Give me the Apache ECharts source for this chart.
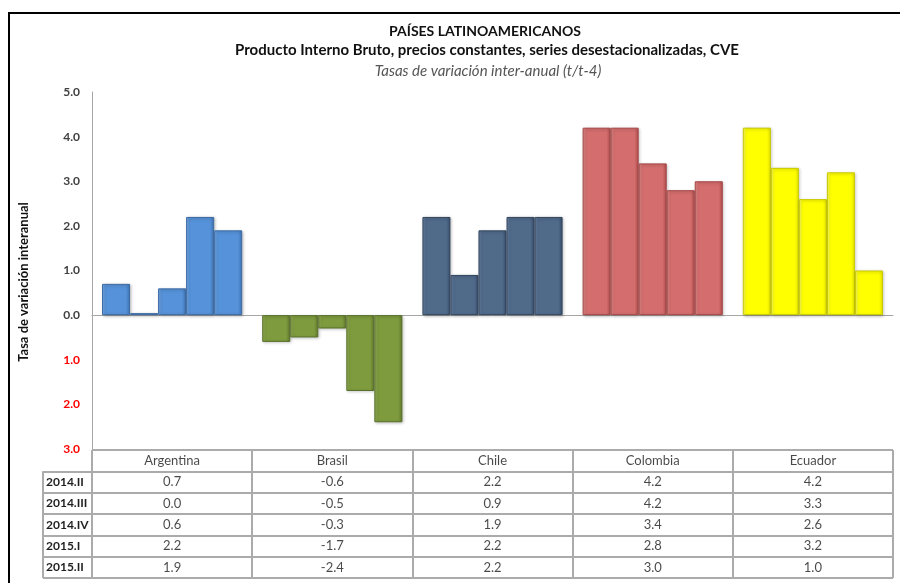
<!DOCTYPE html>
<html>
<head>
<meta charset="utf-8">
<title>Países latinoamericanos – PIB</title>
<script src="https://cdn.jsdelivr.net/npm/echarts@6/dist/echarts.min.js"></script>
<style>
  html, body { margin: 0; padding: 0; background: #ffffff; }
  #chart { width: 900px; height: 583px; }
</style>
</head>
<body>
<div id="chart"></div>
<script>
// Countries (categories) and quarters (series)
const countries = ['Argentina', 'Brasil', 'Chile', 'Colombia', 'Ecuador'];
const quarters = ['2014.II', '2014.III', '2014.IV', '2015.I', '2015.II'];

// Year-on-year GDP growth, one list per country, in quarter order
const argentina = [0.7, 0.0, 0.6, 2.2, 1.9];
const brasil = [-0.6, -0.5, -0.3, -1.7, -2.4];
const chile = [2.2, 0.9, 1.9, 2.2, 2.2];
const colombia = [4.2, 4.2, 3.4, 2.8, 3.0];
const ecuador = [4.2, 3.3, 2.6, 3.2, 1.0];

// Value axis range
const yMin = -3;
const yMax = 5;
const yStep = 1;

// Bar fill per country: [light edge, body, dark edge, outline]
const countryColors = [
  ['#7FB1EC', '#5692D9', '#3F74B5', '#3C6AA3'],
  ['#9DB85E', '#7E9B3E', '#62792C', '#58702A'],
  ['#7089A8', '#506A8A', '#3A4F6B', '#33465F'],
  ['#E69494', '#D46D6D', '#B24F4F', '#A64646'],
  ['#FFFF80', '#FFFF00', '#E6E600', '#C9C900']
];

const byCountry = [argentina, brasil, chile, colombia, ecuador];
const FONT = 'Lato, "Open Sans", sans-serif';
const tableLine = '#ABABAB';

function barStyle(ci) {
  const c = countryColors[ci];
  return {
    color: {
      type: 'linear', x: 0, y: 0, x2: 1, y2: 0,
      colorStops: [
        { offset: 0, color: c[0] },
        { offset: 0.12, color: c[1] },
        { offset: 0.85, color: c[1] },
        { offset: 1, color: c[2] }
      ]
    },
    borderColor: c[3],
    borderWidth: 1,
    shadowColor: 'rgba(0,0,0,0.25)',
    shadowBlur: 3,
    shadowOffsetX: 1,
    shadowOffsetY: 1
  };
}

const barSeries = quarters.map((q, qi) => ({
  name: q,
  type: 'bar',
  xAxisIndex: 0,
  yAxisIndex: 0,
  barGap: '0%',
  barCategoryGap: '12.5%',
  barMinHeight: 2,
  silent: true,
  data: countries.map((c, ci) => ({
    value: byCountry[ci][qi],
    itemStyle: barStyle(ci)
  }))
}));

// Data table under the plot: header row + one row per quarter
const tableCells = [];
countries.forEach((c, ci) => {
  tableCells.push({ value: [ci, 0], name: c });
  quarters.forEach((q, qi) => {
    tableCells.push({ value: [ci, qi + 1], name: byCountry[ci][qi].toFixed(1) });
  });
});

const tableSeries = {
  type: 'scatter',
  xAxisIndex: 1,
  yAxisIndex: 1,
  symbolSize: 1,
  silent: true,
  itemStyle: { color: 'rgba(0,0,0,0)' },
  label: {
    show: true,
    position: 'inside',
    formatter: '{b}',
    fontFamily: FONT,
    fontSize: 13,
    color: '#1A1A1A'
  },
  data: tableCells
};

const chart = echarts.init(document.getElementById('chart'), null, { renderer: 'canvas' });

const tableTop = 450;
const tableHeight = 128;
const rowH = tableHeight / (quarters.length + 1);

chart.setOption({
  animation: false,
  backgroundColor: '#ffffff',
  title: [
    {
      text: 'PAÍSES LATINOAMERICANOS',
      left: 485, top: 24, textAlign: 'center', padding: 0,
      textStyle: { fontFamily: FONT, fontSize: 14, fontWeight: 'bold', color: '#111111' }
    },
    {
      text: 'Producto Interno Bruto, precios constantes, series desestacionalizadas, CVE',
      left: 487, top: 43, textAlign: 'center', padding: 0,
      textStyle: { fontFamily: FONT, fontSize: 15, fontWeight: 'bold', color: '#111111' }
    },
    {
      text: 'Tasas de variación inter-anual (t/t-4)',
      left: 488, top: 64, textAlign: 'center', padding: 0,
      textStyle: { fontFamily: FONT, fontSize: 15, fontStyle: 'italic', fontWeight: 'normal', color: '#555555' }
    }
  ],
  grid: [
    { left: 92, right: 7, top: 92, height: 357 },
    { left: 92, right: 7, top: tableTop, height: tableHeight },
    { left: 43, width: 49, top: tableTop + rowH, height: tableHeight - rowH }
  ],
  xAxis: [
    {
      type: 'category', gridIndex: 0, data: countries,
      axisLine: { show: true, onZero: true, lineStyle: { color: '#A6A6A6', width: 1 } },
      axisTick: { show: false },
      axisLabel: { show: false },
      splitLine: { show: false }
    },
    {
      type: 'category', gridIndex: 1, data: countries,
      axisLine: { show: false },
      axisTick: { show: false },
      axisLabel: { show: false, interval: 0 },
      splitLine: { show: true, interval: 0, lineStyle: { color: tableLine, width: 2 } }
    },
    {
      type: 'category', gridIndex: 2, data: [''],
      axisLine: { show: false },
      axisTick: { show: false },
      axisLabel: { show: false },
      splitLine: { show: true, interval: 0, lineStyle: { color: tableLine, width: 2 } }
    }
  ],
  yAxis: [
    {
      type: 'value', gridIndex: 0,
      min: yMin, max: yMax, interval: yStep,
      axisLine: { show: true, lineStyle: { color: '#A6A6A6', width: 1 } },
      axisTick: { show: false },
      splitLine: { show: false },
      axisLabel: {
        margin: 12,
        fontFamily: FONT,
        fontSize: 12,
        fontWeight: 'bold',
        formatter: v => Math.abs(v).toFixed(1),
        color: v => (Number(v) < 0 ? '#FF0000' : '#404040')
      }
    },
    {
      type: 'category', gridIndex: 1, inverse: true,
      data: [''].concat(quarters),
      axisLine: { show: false },
      axisTick: { show: false },
      axisLabel: { show: false, interval: 0 },
      splitLine: { show: true, interval: 0, lineStyle: { color: tableLine, width: 2 } }
    },
    {
      type: 'category', gridIndex: 2, inverse: true,
      data: quarters,
      axisLine: { show: false },
      axisTick: { show: false },
      axisLabel: {
        show: true, inside: true, margin: 3, interval: 0,
        fontFamily: FONT, fontSize: 12, fontWeight: 'bold', color: '#1F1F1F'
      },
      splitLine: { show: true, interval: 0, lineStyle: { color: tableLine, width: 2 } }
    }
  ],
  graphic: [
    // outer frame (left and top edges)
    { type: 'line', shape: { x1: 9, y1: 12, x2: 9, y2: 583 }, style: { stroke: '#000000', lineWidth: 2 } },
    { type: 'line', shape: { x1: 8, y1: 13, x2: 900, y2: 13 }, style: { stroke: '#000000', lineWidth: 2 } },
    // value-axis title
    {
      type: 'text', x: 24, y: 282, rotation: Math.PI / 2,
      style: {
        text: 'Tasa de variación interanual',
        font: 'bold 13px ' + FONT,
        fill: '#111111',
        textAlign: 'center',
        textVerticalAlign: 'middle'
      }
    }
  ],
  series: barSeries.concat([tableSeries])
});
</script>
</body>
</html>
